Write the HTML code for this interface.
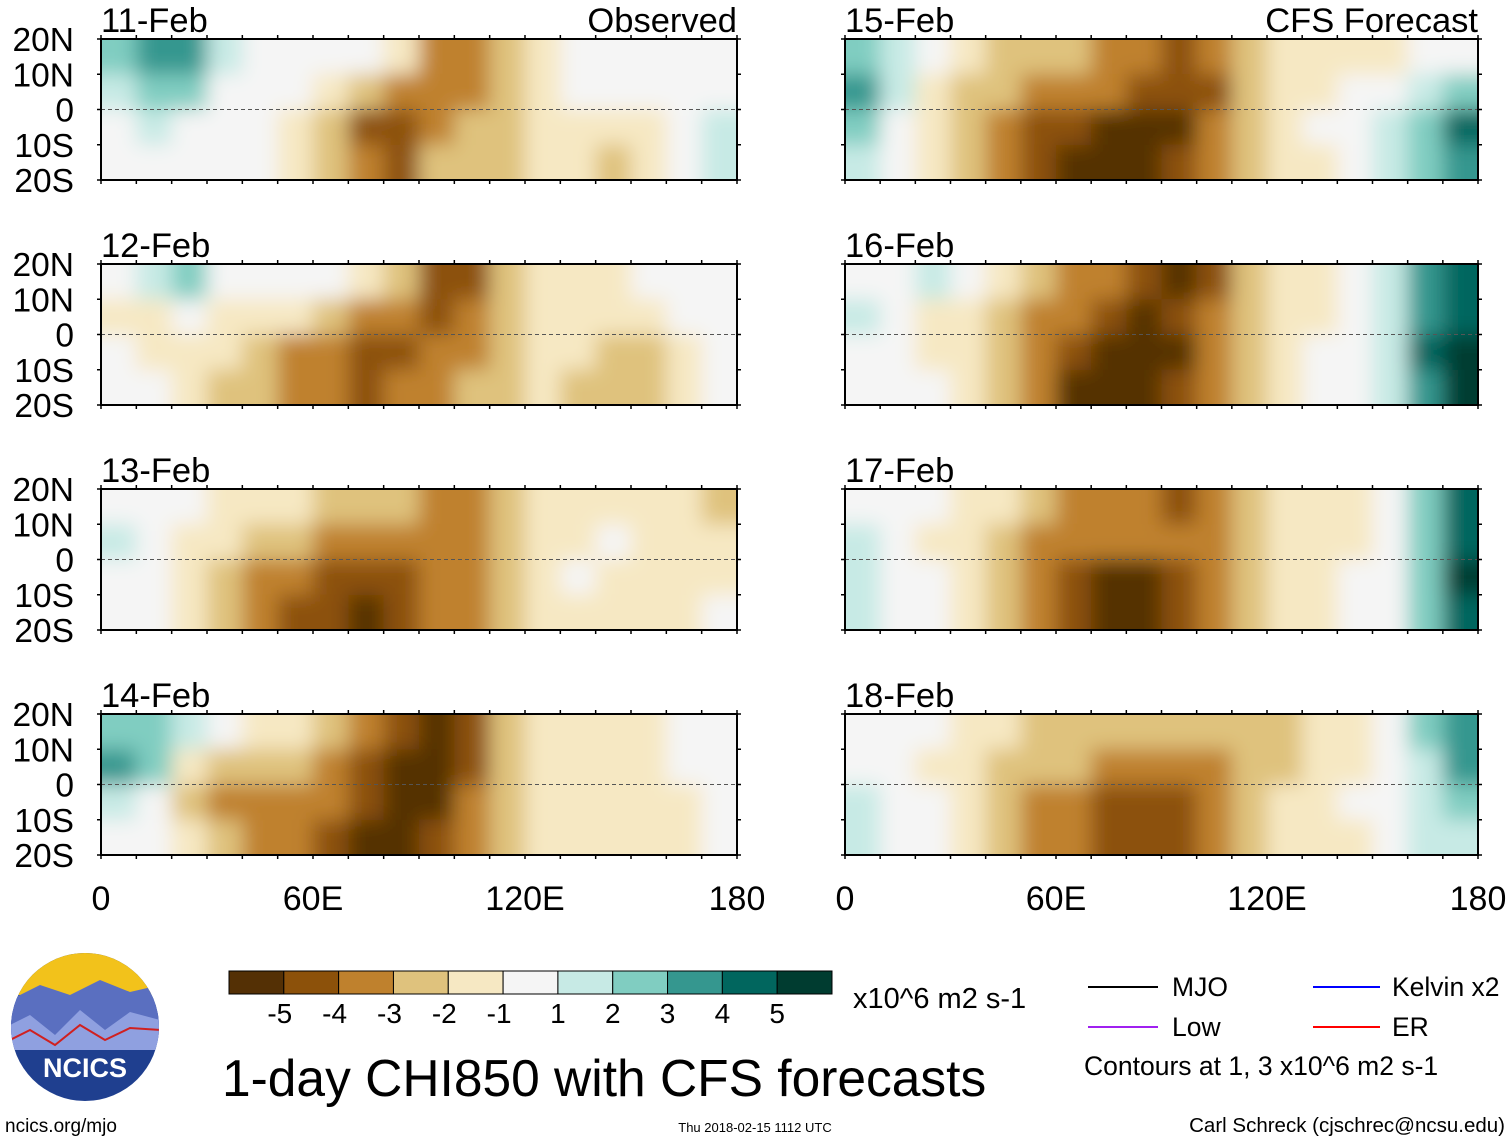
<!DOCTYPE html>
<html><head><meta charset="utf-8">
<style>
body{margin:0;background:#fff;width:1510px;height:1142px;overflow:hidden;font-family:"Liberation Sans",sans-serif}
svg text{font-family:"Liberation Sans",sans-serif}
</style></head>
<body>
<svg id="fig" width="1510" height="1142" viewBox="0 0 1510 1142">
<defs>
<filter id="blur" filterUnits="userSpaceOnUse" x="0" y="0" width="1510" height="1142"><feGaussianBlur stdDeviation="10"/></filter>
</defs>
<g id="panels"></g>
<g id="labels"></g>
<g id="colorbar"></g>
<g>
<clipPath id="logoclip"><circle cx="85" cy="1027" r="74"/></clipPath>
<g clip-path="url(#logoclip)">
<rect x="10" y="950" width="150" height="160" fill="#1f3f8f"/>
<rect x="10" y="950" width="150" height="45" fill="#f2c21b"/>
<path d="M10 1000 L40 985 L70 995 L100 980 L130 992 L160 985 L160 1040 L10 1040Z" fill="#5a6fc0"/>
<path d="M10 1025 L30 1015 L55 1035 L80 1010 L105 1030 L130 1012 L160 1020 L160 1050 L10 1050Z" fill="#8fa0e0"/>
<path d="M10 1040 L30 1030 L55 1045 L80 1025 L105 1040 L130 1028 L160 1030" fill="none" stroke="#d02020" stroke-width="2"/>
</g>
<text x="85" y="1077" font-size="27" font-weight="bold" fill="#fff" text-anchor="middle">NCICS</text>
</g>
<text x="5" y="1132" font-size="19">ncics.org/mjo</text>
<text x="222" y="1096" font-size="51.5">1-day CHI850 with CFS forecasts</text>
<text x="755" y="1132" font-size="13" text-anchor="middle">Thu 2018-02-15 1112 UTC</text>
<text x="1505" y="1132" font-size="20.5" text-anchor="end">Carl Schreck (cjschrec@ncsu.edu)</text>
<text x="853" y="1008" font-size="29">x10^6 m2 s-1</text>
<g>
<line x1="1088" y1="987" x2="1158" y2="987" stroke="#000" stroke-width="2"/>
<text x="1172" y="996" font-size="26.5">MJO</text>
<line x1="1088" y1="1027" x2="1158" y2="1027" stroke="#a020f0" stroke-width="2"/>
<text x="1172" y="1036" font-size="26.5">Low</text>
<line x1="1313" y1="987" x2="1380" y2="987" stroke="#0000ff" stroke-width="2"/>
<text x="1392" y="996" font-size="26.5">Kelvin x2</text>
<line x1="1313" y1="1027" x2="1380" y2="1027" stroke="#ff0000" stroke-width="2"/>
<text x="1392" y="1036" font-size="26.5">ER</text>
<text x="1084" y="1075" font-size="26.5">Contours at 1, 3 x10^6 m2 s-1</text>
</g>
</svg>
<script>
const colors=["#543005","#8c510a","#bf812d","#dfc27d","#f6e8c3","#f5f5f5","#c7eae5","#80cdc1","#35978f","#01665e","#003c30"];
const cbLabels=["-5","-4","-3","-2","-1","1","2","3","4","5"];
const dates=["11-Feb","12-Feb","13-Feb","14-Feb","15-Feb","16-Feb","17-Feb","18-Feb"];
const latLabels=["20N","10N","0","10S","20S"];
const lonLabels=["0","60E","120E","180"];
const d11=[[2,3,3,1,0,0,0,0,-1,-3,-3,-2,-1,0,0,0,0,0],[1,2,2,0,0,0,-1,-2,-3,-3,-3,-2,-1,0,0,0,0,0],[0,1,0,0,0,-1,-2,-4,-4,-3,-2,-2,-1,-1,-1,-1,0,1],[0,0,0,0,0,-1,-2,-3,-4,-2,-2,-2,-1,-1,-2,-1,0,1]];
const d12=[[0,1,2,0,0,0,0,-1,-2,-4,-4,-2,-1,-1,-1,0,0,0],[-1,-1,0,-1,-1,-1,-2,-3,-3,-4,-3,-2,-1,-1,-1,-1,0,0],[0,-1,-1,-1,-2,-3,-3,-4,-4,-3,-3,-2,-1,-1,-2,-2,-1,0],[0,0,-1,-2,-2,-3,-3,-4,-3,-3,-2,-2,-1,-2,-2,-2,-1,0]];
const d13=[[0,0,0,-1,-1,-1,-2,-2,-2,-3,-3,-2,-1,-1,-1,-1,-1,-2],[1,0,-1,-1,-2,-2,-3,-3,-3,-3,-3,-2,-1,-1,0,-1,-1,-1],[0,0,-1,-2,-3,-3,-4,-4,-4,-3,-3,-2,-1,0,-1,-1,-1,-1],[0,0,-1,-2,-3,-4,-4,-5,-4,-3,-3,-2,-1,-1,-1,-1,-1,0]];
const d14=[[2,2,1,0,-1,-1,-2,-3,-4,-5,-4,-2,-1,-1,-1,-1,0,0],[3,2,-1,-2,-2,-2,-3,-4,-5,-5,-4,-2,-1,-1,-1,-1,0,0],[1,0,-2,-3,-3,-3,-3,-4,-5,-5,-3,-2,-1,-1,-1,-1,-1,0],[0,0,-1,-2,-3,-3,-4,-5,-5,-4,-3,-2,-1,-1,-1,-1,-1,0]];
const d15=[[2,1,0,-1,-2,-2,-2,-3,-3,-4,-3,-2,-1,-1,-1,-1,0,0],[3,1,-1,-2,-2,-3,-3,-3,-4,-4,-4,-2,-1,-1,0,0,1,2],[2,0,-1,-2,-3,-4,-4,-5,-5,-5,-3,-2,-1,0,0,1,2,4],[1,0,-1,-2,-3,-4,-5,-5,-5,-4,-3,-2,-1,-1,0,1,2,3]];
const d16=[[0,0,1,0,-1,-2,-3,-3,-4,-5,-4,-2,-1,-1,0,1,3,4],[1,0,-1,-1,-2,-3,-3,-4,-5,-4,-3,-2,-1,-1,0,1,3,4],[0,0,-1,-1,-2,-3,-4,-5,-5,-5,-3,-2,-1,0,0,1,4,5],[0,0,0,-1,-2,-3,-5,-5,-5,-4,-3,-2,-1,0,0,1,3,5]];
const d17=[[0,0,0,-1,-1,-2,-3,-3,-3,-4,-3,-2,-1,-1,-1,0,2,4],[1,0,-1,-1,-2,-3,-3,-3,-3,-3,-3,-2,-1,-1,-1,0,2,4],[1,0,0,-1,-2,-3,-4,-5,-5,-4,-3,-2,-1,-1,0,0,2,5],[1,0,0,-1,-2,-3,-4,-5,-5,-4,-3,-2,-1,-1,0,0,2,4]];
const d18=[[0,0,0,-1,-1,-2,-2,-2,-2,-2,-2,-2,-2,-1,-1,0,2,3],[0,0,-1,-1,-2,-2,-2,-3,-3,-3,-3,-2,-2,-1,-1,0,1,3],[1,0,0,-1,-2,-3,-3,-4,-4,-4,-3,-2,-1,-1,0,0,1,2],[1,0,0,-1,-2,-3,-3,-4,-4,-4,-3,-2,-1,-1,-1,0,1,1]];
const panelData=[d11,d12,d13,d14,d15,d16,d17,d18];

const NS="http://www.w3.org/2000/svg";
function mk(tag,attrs,parent){const e=document.createElementNS(NS,tag);for(const k in attrs)e.setAttribute(k,attrs[k]);parent.appendChild(e);return e;}
function colorOf(v){let i=Math.round(v)+5;if(i<0)i=0;if(i>10)i=10;return colors[i];}
const panelsG=document.getElementById('panels');
const labelsG=document.getElementById('labels');
const colX=[101,845],colW=[636,633];
const rowY=[39,264,489,714],PH=141;
function xScale(c,lon){return colX[c]+lon/180*colW[c];}
function yScale(r,lat){return rowY[r]+(20-lat)/40*PH;}
panelData.forEach((data,p)=>{
  const c=p<4?0:1,r=p%4;
  const x0=colX[c],y0=rowY[r],w=colW[c];
  const g=mk('g',{},panelsG);
  
  
  const cp=mk('clipPath',{id:'cp'+p},g);
  mk('rect',{x:x0,y:y0,width:w,height:PH},cp);
  const inner=mk('g',{'clip-path':'url(#cp'+p+')'},g);
  mk('rect',{x:x0,y:y0,width:w,height:PH,fill:'#f5f5f5'},inner);
  const cells=mk('g',{filter:'url(#blur)'},inner);
  data.forEach((row,ri)=>{row.forEach((v,ci)=>{
    let xa=xScale(c,ci*10),xb=xScale(c,ci*10+10);
    let ya=yScale(r,20-ri*10),yb=yScale(r,10-ri*10);
    if(ci==0)xa-=30; if(ci==row.length-1)xb+=30;
    if(ri==0)ya-=30; if(ri==data.length-1)yb+=30;
    const cell=mk('rect',{x:xa,y:ya,width:xb-xa+0.5,height:yb-ya+0.5,fill:colorOf(v)},cells);
    
    
  });});
  mk('line',{x1:x0,x2:x0+w,y1:yScale(r,0),y2:yScale(r,0),stroke:'#555','stroke-width':1,'stroke-dasharray':'4,3'},inner);
  const fr=mk('rect',{x:x0,y:y0,width:w,height:PH,fill:'none',stroke:'#000','stroke-width':2},g);
  
  
  for(let lon=0;lon<=180;lon+=10){const x=xScale(c,lon);
    mk('line',{x1:x,x2:x,y1:y0-4,y2:y0,stroke:'#000','stroke-width':1.5},g);
    mk('line',{x1:x,x2:x,y1:y0+PH,y2:y0+PH+4,stroke:'#000','stroke-width':1.5},g);}
  for(let lat=-20;lat<=20;lat+=10){const y=yScale(r,lat);
    mk('line',{x1:x0-4,x2:x0,y1:y,y2:y,stroke:'#000','stroke-width':1.5},g);
    mk('line',{x1:x0+w,x2:x0+w+4,y1:y,y2:y,stroke:'#000','stroke-width':1.5},g);}
  const t=mk('text',{x:x0,y:y0-7,'font-size':34.5},labelsG);t.textContent=dates[p];
  
  
  if(c==0){latLabels.forEach((l,i)=>{const tt=mk('text',{x:74,y:yScale(r,20-i*10)+12,'font-size':33.5,'text-anchor':'end'},labelsG);tt.textContent=l;
    
    });}
});
[["Observed",737],["CFS Forecast",1478]].forEach(([s,x])=>{const t=mk('text',{x:x,y:32,'font-size':34.5,'text-anchor':'end'},labelsG);t.textContent=s;
  
  });
[0,1].forEach(c=>{lonLabels.forEach((l,i)=>{const t=mk('text',{x:xScale(c,i*60),y:910,'font-size':34,'text-anchor':'middle'},labelsG);t.textContent=l;
  
  });});
const cb=document.getElementById('colorbar');
const cbx=229,cbw=603/11;
colors.forEach((col,i)=>{const r=mk('rect',{x:cbx+i*cbw,y:971,width:cbw,height:23,fill:col,stroke:'#000','stroke-width':1},cb);
  
  });
cbLabels.forEach((l,i)=>{const t=mk('text',{x:cbx+(i+1)*cbw+(i<5?-4:0),y:1023,'font-size':28,'text-anchor':'middle'},cb);t.textContent=l;
  
  });
</script>
</body></html>
